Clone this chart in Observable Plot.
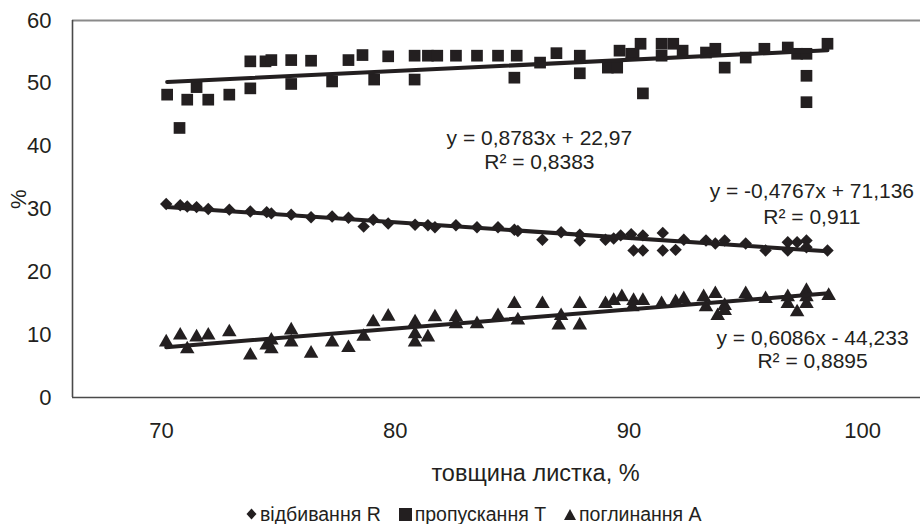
<!DOCTYPE html>
<html>
<head>
<meta charset="utf-8">
<script src="https://cdn.jsdelivr.net/npm/d3@7"></script>
<script src="https://cdn.jsdelivr.net/npm/@observablehq/plot@0.6"></script>
<style>
  html, body { margin: 0; padding: 0; background: #fff; }
  body { width: 920px; font-family: "Liberation Sans", Arial, sans-serif; color: #231f20; }
  #chart svg { display: block; }
  #legend { height: 24px; display: flex; align-items: center; padding-left: 246px; padding-top: 4px; font-size: 19.5px; line-height: 18px; box-sizing: border-box; }
  #legend .item { display: flex; align-items: center; margin-right: 18px; }
  #legend svg { margin-right: 3px; }
</style>
</head>
<body>
<div id="chart"></div>
<div id="legend"></div>
<script>
// Series names (legend)
const seriesNames = ["відбивання R", "пропускання T", "поглинання A"];

// відбивання R (diamonds)
const xR = [70.2, 70.8, 71.1, 71.5, 72.0, 72.9, 73.8, 74.5, 74.7, 75.55, 76.4, 77.3, 78.0, 78.65, 79.06, 79.7, 80.85, 81.4, 81.7, 82.6, 83.5, 84.4, 85.1, 85.25, 86.3, 87.1, 87.9, 87.9, 89.0, 89.35, 89.65, 90.1, 90.2, 90.6, 90.6, 91.45, 91.45, 92.0, 92.35, 93.3, 93.7, 94.1, 95.0, 95.85, 96.8, 96.8, 97.2, 97.6, 97.6, 98.5];
const yR = [30.8, 30.6, 30.4, 30.3, 30.0, 29.9, 29.6, 29.5, 29.3, 29.1, 28.7, 28.8, 28.6, 27.2, 28.3, 27.7, 27.5, 27.4, 27.1, 27.4, 27.1, 27.1, 26.7, 26.5, 25.1, 26.3, 25.9, 25.0, 25.1, 25.3, 25.8, 26.0, 23.4, 23.4, 25.8, 26.2, 23.4, 23.5, 25.1, 25.0, 24.5, 25.0, 24.5, 23.4, 23.4, 24.7, 24.7, 25.0, 23.9, 23.4];

// пропускання T (squares)
const xT = [70.24, 70.77, 71.1, 71.5, 72.0, 72.9, 73.8, 73.8, 74.45, 74.7, 75.55, 75.55, 76.4, 77.3, 78.0, 78.6, 79.1, 79.7, 80.83, 80.83, 81.4, 81.8, 82.6, 83.5, 84.4, 85.2, 85.1, 86.2, 86.9, 87.9, 87.9, 89.1, 89.5, 89.6, 90.1, 90.2, 90.5, 90.6, 91.4, 91.4, 91.9, 92.3, 93.3, 93.7, 94.1, 95.0, 95.8, 96.8, 97.2, 97.6, 97.6, 97.6, 98.5];
const yT = [48.2, 42.9, 47.4, 49.4, 47.4, 48.2, 53.5, 49.2, 53.5, 53.7, 53.7, 49.9, 53.6, 50.3, 53.7, 54.5, 50.6, 54.3, 54.4, 50.6, 54.4, 54.4, 54.4, 54.4, 54.4, 54.4, 50.9, 53.3, 54.8, 54.4, 51.6, 52.5, 52.5, 55.2, 54.7, 54.7, 56.3, 48.4, 56.3, 54.4, 56.3, 55.2, 54.9, 55.5, 52.5, 54.1, 55.5, 55.7, 54.7, 54.7, 51.2, 47.0, 56.3];

// поглинання A (triangles)
const xA = [70.2, 70.8, 71.1, 71.5, 72.0, 72.9, 73.8, 74.5, 74.7, 74.7, 75.55, 75.55, 76.4, 77.3, 78.0, 78.65, 79.06, 79.7, 80.85, 80.85, 80.85, 81.4, 81.7, 82.6, 82.6, 83.5, 84.4, 85.1, 85.25, 86.3, 87.1, 87.0, 87.9, 87.9, 89.0, 89.35, 89.7, 90.15, 90.2, 90.6, 91.4, 92.0, 92.35, 93.2, 93.3, 93.7, 93.8, 94.1, 94.1, 95.0, 95.85, 96.8, 96.8, 97.2, 97.6, 97.6, 97.6, 98.55];
const yA = [8.8, 9.9, 7.7, 9.6, 9.9, 10.4, 6.7, 8.3, 9.1, 7.7, 10.7, 8.8, 7.0, 8.8, 7.9, 9.7, 12.0, 12.9, 12.0, 10.1, 8.8, 9.6, 12.8, 12.8, 11.7, 11.7, 13.0, 14.9, 12.3, 14.9, 13.0, 11.5, 14.9, 11.5, 14.9, 15.4, 16.0, 14.4, 15.4, 15.4, 14.9, 15.2, 15.7, 16.0, 14.4, 16.5, 13.0, 14.6, 13.8, 16.5, 15.7, 14.9, 16.0, 13.6, 17.0, 14.9, 16.0, 16.2];

// Axis ticks and labels
const xTicks = [70, 80, 90, 100];
const yTicks = [0, 10, 20, 30, 40, 50, 60];
const xDomain = [66.19, 102.48];
const yDomain = [0, 60];
const xTitle = "товщина листка, %";
const yTitle = "%";

// Trendline equation labels (Excel-style)
const eqText = ["y = 0,8783x + 22,97", "R² = 0,8383", "y = -0,4767x + 71,136", "R² = 0,911", "y = 0,6086x - 44,233", "R² = 0,8895"];
const eqX = [86.17, 86.17, 97.83, 97.83, 97.86, 97.86];
const eqY = [41.2, 37.4, 32.8, 28.65, 9.4, 5.7];

const ink = "#231f20";
const R = xR.map((x, i) => ({x, y: yR[i]}));
const T = xT.map((x, i) => ({x, y: yT[i]}));
const A = xA.map((x, i) => ({x, y: yA[i]}));
const notes = eqText.map((t, i) => ({t, x: eqX[i], y: eqY[i]}));

const chart = Plot.plot({
  width: 920,
  height: 500,
  marginLeft: 72,
  marginRight: 0,
  marginTop: 20,
  marginBottom: 103,
  style: {fontFamily: "'Liberation Sans', Arial, sans-serif", fontSize: "22px", color: ink, background: "#fff", overflow: "visible"},
  x: {domain: xDomain, ticks: xTicks, tickSize: 0, tickPadding: 25, label: null},
  y: {domain: yDomain, ticks: yTicks, tickSize: 0, tickPadding: 21, label: null},
  marks: [
    Plot.ruleY([yDomain[1]], {stroke: "#8a8a8a", strokeWidth: 2}),
    Plot.ruleY([yDomain[0]], {stroke: "#4a4a4a", strokeWidth: 1.6}),
    Plot.ruleX([xDomain[0]], {stroke: "#4a4a4a", strokeWidth: 1.6}),
    Plot.dot(T, {x: "x", y: "y", symbol: "square", r: 6.6, fill: ink, stroke: "none"}),
    Plot.dot(R, {x: "x", y: "y", symbol: "diamond2", r: 5.6, fill: ink, stroke: "none"}),
    Plot.dot(A, {x: "x", y: "y", symbol: "triangle", r: 5.4, fill: ink, stroke: "none"}),
    Plot.linearRegressionY(T, {x: "x", y: "y", stroke: ink, strokeWidth: 4, ci: 0}),
    Plot.linearRegressionY(R, {x: "x", y: "y", stroke: ink, strokeWidth: 4, ci: 0}),
    Plot.linearRegressionY(A, {x: "x", y: "y", stroke: ink, strokeWidth: 4, ci: 0}),
    Plot.text(notes, {x: "x", y: "y", text: "t", fontSize: 21, fill: ink}),
    Plot.text([yTitle], {text: d => d, frameAnchor: "left", rotate: -90, dx: -54, fontSize: 22, fill: ink}),
    Plot.text([xTitle], {text: d => d, frameAnchor: "bottom", dx: 39, dy: 83, fontSize: 23.5, fill: ink})
  ]
});
document.getElementById("chart").appendChild(chart);

// Legend
const symbols = [
  '<svg width="11" height="12" viewBox="0 0 11 12"><path d="M5.5 0.5 L10.5 6 L5.5 11.5 L0.5 6 Z" fill="' + ink + '"/></svg>',
  '<svg width="13" height="13" viewBox="0 0 13 13"><rect x="0" y="0" width="13" height="13" fill="' + ink + '"/></svg>',
  '<svg width="12" height="11" viewBox="0 0 12 11"><path d="M6 0 L12 11 L0 11 Z" fill="' + ink + '"/></svg>'
];
const legend = document.getElementById("legend");
seriesNames.forEach((name, i) => {
  const item = document.createElement("span");
  item.className = "item";
  item.innerHTML = symbols[i] + "<span>" + name + "</span>";
  legend.appendChild(item);
});
</script>
</body>
</html>
